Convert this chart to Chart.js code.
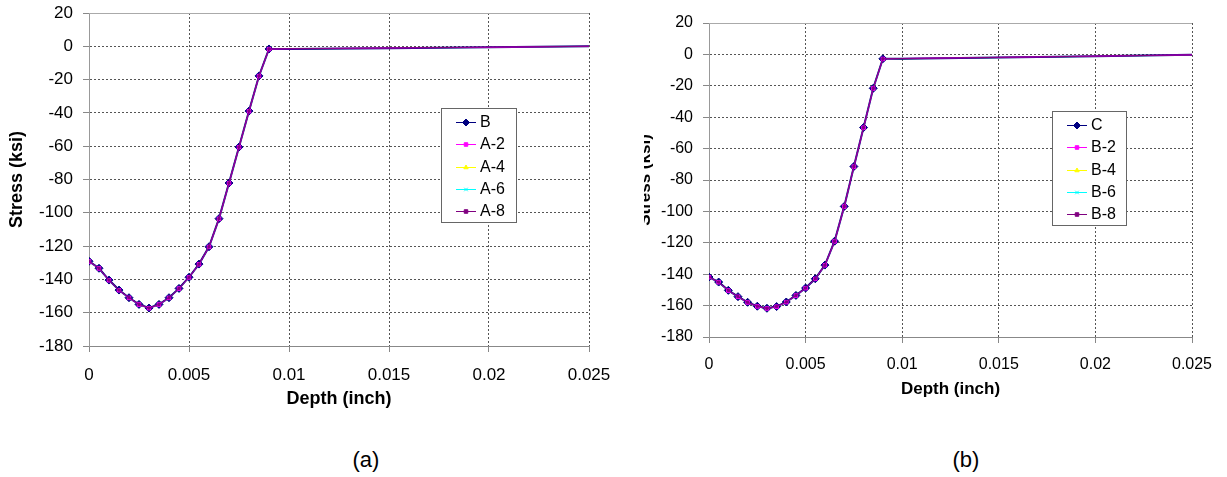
<!DOCTYPE html>
<html lang="en">
<head>
<meta charset="UTF-8">
<title>Stress vs depth</title>
<script src="https://cdn.jsdelivr.net/npm/chart.js"></script>
<style>
  body { margin:0; width:1227px; height:477px; background:#fff; position:relative; overflow:hidden;
         font-family:"Liberation Sans", Arial, sans-serif; color:#000; }
  .wrap { position:absolute; top:0; height:420px; overflow:hidden; }
  .wrap canvas { position:absolute; top:0; }
  .legend { position:absolute; box-sizing:border-box; background:#fff; border:1px solid #666; padding-top:2px; }
  .row { height:22.3px; display:flex; align-items:center; font-size:16px; padding-left:14px; }
  .icon { width:20px; height:12px; margin-right:4px; }
  .caption { position:absolute; width:100px; text-align:center; font-size:22px; top:447px; }
</style>
</head>
<body>

<div class="wrap" style="left:0; width:612px;">
  <canvas id="chartA" width="612" height="420" style="left:0"></canvas>
</div>
<div class="legend" id="legendA" style="left:441px; top:108px; width:76px; height:115px;"></div>

<div class="wrap" style="left:644px; width:583px;">
  <canvas id="chartB" width="600" height="420" style="left:-16px"></canvas>
</div>
<div class="legend" id="legendB" style="left:1052px; top:111px; width:75px; height:115px;"></div>

<div class="caption" style="left:316px;">(a)</div>
<div class="caption" style="left:916px;">(b)</div>

<script>
  // depth (inch)
  const depth = [0, 0.0005, 0.001, 0.0015, 0.002, 0.0025, 0.003, 0.0035, 0.004, 0.0045, 0.005,
                 0.0055, 0.006, 0.0065, 0.007, 0.0075, 0.008, 0.0085, 0.009, 0.01, 0.015, 0.02, 0.025];

  // chart (a) stress (ksi) - the five curves sit on top of each other
  const stressB  = [-129.1, -133.3, -140.4, -146.4, -151.0, -155.0, -157.2, -155.0, -151.0, -145.4, -138.7,
                    -130.8, -120.4, -103.5, -82.1, -60.5, -38.9, -17.8, -1.6, -1.6, -1.1, -0.6, 0];
  const stressA2 = [-129.2, -133.4, -140.5, -146.5, -151.1, -155.1, -157.3, -155.1, -151.1, -145.5, -138.8,
                    -130.9, -120.5, -103.6, -82.2, -60.6, -39.0, -17.9, -1.7, -1.5, -1.0, -0.6, 0];
  const stressA4 = [-129.1, -133.3, -140.4, -146.4, -151.0, -155.0, -157.2, -155.0, -151.0, -145.4, -138.7,
                    -130.8, -120.4, -103.5, -82.1, -60.5, -38.9, -17.8, -1.6, -1.6, -1.1, -0.6, 0];
  const stressA6 = [-129.1, -133.3, -140.4, -146.4, -151.0, -155.0, -157.2, -155.0, -151.0, -145.4, -138.7,
                    -130.8, -120.4, -103.5, -82.1, -60.5, -38.9, -17.8, -1.6, -1.6, -1.1, -0.6, 0];
  const stressA8 = [-129.1, -133.3, -140.4, -146.4, -151.0, -155.0, -157.2, -155.0, -151.0, -145.4, -138.7,
                    -130.8, -120.4, -103.5, -82.1, -60.5, -38.9, -17.8, -1.6, -1.4, -1.0, -0.5, 0];

  // chart (b) stress (ksi)
  const stressC  = [-141.8, -145.0, -150.3, -154.3, -157.9, -160.4, -161.7, -160.6, -157.7, -153.5, -148.8,
                    -142.9, -134.2, -119.0, -96.8, -71.4, -46.6, -21.6, -2.8, -2.8, -2.0, -1.2, -0.3];
  const stressB2 = [-141.9, -145.1, -150.4, -154.4, -158.0, -160.5, -161.8, -160.7, -157.8, -153.6, -148.9,
                    -143.0, -134.3, -119.1, -96.9, -71.5, -46.7, -21.7, -2.9, -2.6, -1.9, -1.1, -0.3];
  const stressB4 = [-141.8, -145.0, -150.3, -154.3, -157.9, -160.4, -161.7, -160.6, -157.7, -153.5, -148.8,
                    -142.9, -134.2, -119.0, -96.8, -71.4, -46.6, -21.6, -2.8, -2.8, -2.0, -1.2, -0.3];
  const stressB6 = [-141.8, -145.0, -150.3, -154.3, -157.9, -160.4, -161.7, -160.6, -157.7, -153.5, -148.8,
                    -142.9, -134.2, -119.0, -96.8, -71.4, -46.6, -21.6, -2.8, -2.8, -2.0, -1.2, -0.3];
  const stressB8 = [-141.8, -145.0, -150.3, -154.3, -157.9, -160.4, -161.7, -160.6, -157.7, -153.5, -148.8,
                    -142.9, -134.2, -119.0, -96.8, -71.4, -46.6, -21.6, -2.8, -2.6, -1.9, -1.1, -0.3];

  const namesA = ['B', 'A-2', 'A-4', 'A-6', 'A-8'];
  const namesB = ['C', 'B-2', 'B-4', 'B-6', 'B-8'];

  const xTicks = [0, 0.005, 0.01, 0.015, 0.02, 0.025];
  const yTicks = [-180, -160, -140, -120, -100, -80, -60, -40, -20, 0, 20];

  // excel-ish series styles, z = stacking (higher = drawn later / on top)
  const seriesStyle = [
    { color: '#000080', point: 'rectRot',  r: 4,   w: 2, z: 3 },
    { color: '#ff00ff', point: 'rect',     r: 2.5, w: 1, z: 4 },
    { color: '#ffff00', point: 'triangle', r: 3,   w: 1, z: 2 },
    { color: '#00ffff', point: 'crossRot', r: 3,   w: 1, z: 1 },
    { color: '#800080', point: 'rect',     r: 1.5, w: 1, z: 5 }
  ];

  const FONT = '"Liberation Sans", Arial, sans-serif';

  // thin grey line along the top of the plot area
  const frameTop = {
    id: 'frameTop',
    afterDraw(chart) {
      const a = chart.chartArea, ctx = chart.ctx;
      ctx.save();
      ctx.strokeStyle = '#aaa';
      ctx.lineWidth = 1;
      ctx.beginPath();
      ctx.moveTo(a.left, Math.round(a.top) + 0.5);
      ctx.lineTo(a.right, Math.round(a.top) + 0.5);
      ctx.stroke();
      ctx.restore();
    }
  };

  function buildChart(id, names, series, o) {
    const datasets = names.map((name, i) => ({
      label: name,
      data: depth.map((x, k) => ({ x: x, y: series[i][k] })),
      borderColor: seriesStyle[i].color,
      backgroundColor: seriesStyle[i].color,
      borderWidth: seriesStyle[i].w,
      pointStyle: seriesStyle[i].point,
      pointRadius: c => (c.parsed && c.parsed.x > 0.009) ? 0 : seriesStyle[i].r,
      pointBorderWidth: 1,
      pointHoverRadius: 0,
      showLine: true,
      tension: 0,
      order: 10 - seriesStyle[i].z
    }));

    return new Chart(document.getElementById(id), {
      type: 'scatter',
      data: { datasets: datasets },
      plugins: [frameTop],
      options: {
        responsive: false,
        animation: false,
        events: [],
        layout: { padding: o.padding },
        plugins: { legend: { display: false }, tooltip: { enabled: false } },
        scales: {
          x: {
            type: 'linear', min: 0, max: 0.025,
            afterBuildTicks: a => { a.ticks = xTicks.map(v => ({ value: v })); },
            afterFit: a => { a.height = o.xh; a.paddingLeft = 0; a.paddingRight = 0; },
            ticks: { callback: v => String(v), font: { family: FONT, size: o.tick }, color: '#000',
                     padding: o.xpad, maxRotation: 0, autoSkip: false },
            grid: { color: c => (c.tick && c.tick.value === 0) ? 'rgba(0,0,0,0)' : '#555',
                    tickColor: '#888', tickLength: 6 },
            border: { color: '#888', dash: [2, 2] },
            title: { display: true, text: 'Depth (inch)', color: '#000',
                     font: { family: FONT, size: o.title, weight: 'bold' },
                     padding: { top: 0, bottom: o.tb } }
          },
          y: {
            type: 'linear', min: -180, max: 20,
            afterBuildTicks: a => { a.ticks = yTicks.map(v => ({ value: v })); },
            afterFit: a => { a.width = o.yw; a.paddingTop = 0; a.paddingBottom = 0; },
            ticks: { font: { family: FONT, size: o.tick }, color: '#000', padding: o.ypad, autoSkip: false },
            grid: { color: c => (c.tick && (c.tick.value === -180 || c.tick.value === 20)) ? 'rgba(0,0,0,0)' : '#555',
                    tickColor: '#888', tickLength: 6 },
            border: { color: '#999', dash: [2, 2] },
            title: { display: true, text: 'Stress (ksi)', color: '#000',
                     font: { family: FONT, size: o.title, weight: 'bold' },
                     padding: { top: o.tp, bottom: 0 } }
          }
        }
      }
    });
  }

  function buildLegend(chart, id) {
    const box = document.getElementById(id);
    chart.data.datasets.forEach((ds, i) => {
      const row = document.createElement('div');
      row.className = 'row';
      const cv = document.createElement('canvas');
      cv.width = 20; cv.height = 12; cv.className = 'icon';
      const g = cv.getContext('2d');
      g.strokeStyle = ds.borderColor;
      g.fillStyle = ds.backgroundColor;
      g.lineWidth = 1;
      g.beginPath(); g.moveTo(0, 6.5); g.lineTo(20, 6.5); g.stroke();
      const r = i === 0 ? 3.5 : 2.5;
      if (Chart.helpers && Chart.helpers.drawPoint) {
        Chart.helpers.drawPoint(g, { pointStyle: ds.pointStyle, radius: r, rotation: 0, borderWidth: 1 }, 10, 6.5);
      } else {
        g.fillRect(8, 4.5, 4, 4);
      }
      const txt = document.createElement('span');
      txt.textContent = ds.label;
      row.appendChild(cv);
      row.appendChild(txt);
      box.appendChild(row);
    });
  }

  const chartA = buildChart('chartA', namesA, [stressB, stressA2, stressA4, stressA6, stressA8], {
    padding: { left: 0, top: 13, right: 23, bottom: 0 },
    yw: 89, xh: 74, tick: 17, title: 18, tp: 6, tb: 10, ypad: 10, xpad: 13
  });
  const chartB = buildChart('chartB', namesB, [stressC, stressB2, stressB4, stressB6, stressB8], {
    padding: { left: 0, top: 23, right: 36, bottom: 0 },
    yw: 81, xh: 83, tick: 16, title: 17, tp: 7, tb: 20, ypad: 10, xpad: 12
  });

  buildLegend(chartA, 'legendA');
  buildLegend(chartB, 'legendB');
</script>
</body>
</html>
